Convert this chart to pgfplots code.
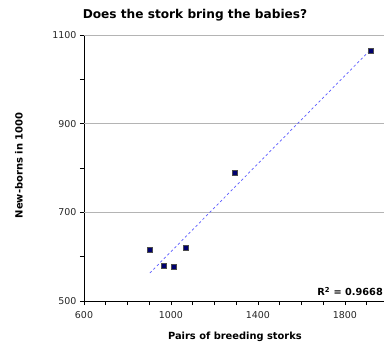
\documentclass[border=0pt]{standalone}
\usepackage{fontspec}
\setmainfont{DejaVu Sans}
\usepackage{pgfplots}
\usepackage{pgfplotstable}
\pgfplotsset{compat=1.18}
\definecolor{navy}{RGB}{0,0,110}
\definecolor{trend}{RGB}{90,90,255}
\definecolor{gridgray}{RGB}{180,180,180}
\pgfplotstableread{
x y
903 616
968 580
1014 577
1069 620
1294 789
1920 1065
}\storks
\begin{document}
\begin{tikzpicture}
\begin{axis}[
  scale only axis, width=300bp, height=266bp,
  xmin=600, xmax=1980, ymin=500, ymax=1100,
  axis x line=bottom, axis y line=left,
  axis line style={-, black, line width=0.8bp},
  xtick={600,700,...,1900},
  xticklabels={600,,,,1000,,,,1400,,,,1800,},
  ytick={500,600,...,1100},
  yticklabels={500,,700,,900,,1100},
  extra y ticks={700,900,1100},
  extra y tick labels={},
  extra y tick style={grid=major, major tick length=0pt},
  major grid style={gridgray, line width=0.8bp},
  tick align=outside, major tick length=4bp,
  tick style={black, line width=0.6bp},
  /pgf/number format/assume math mode=true,
  ticklabel style={font=\fontsize{9.5}{11}\selectfont, text=black!85},
  xticklabel style={yshift=-3bp},
  clip=false,
  title={\textbf{Does the stork bring the babies?}},
  title style={font=\fontsize{12.2}{14}\selectfont, at={(axis description cs:0.37,1.04)}, anchor=base},
  xlabel={\textbf{Pairs of breeding storks}},
  xlabel style={font=\fontsize{9.9}{12}\selectfont, at={(axis description cs:0.503,-0.136)}, anchor=center},
  ylabel={\textbf{New-borns in 1000}},
  ylabel style={font=\fontsize{10}{12}\selectfont, at={(axis description cs:-0.217,0.51)}, anchor=center, rotate=0},
]
\addplot[trend, line width=0.7bp, dash pattern=on 2.5bp off 2.5bp]
  table[x=x, y={create col/linear regression={y=y}}] {\storks};
\addplot[only marks, mark=square*, mark size=2.6bp, mark options={fill=navy, draw=black!70, line width=0.5bp}]
  table[x=x, y=y] {\storks};
\node[anchor=south east, font=\fontsize{9.8}{11}\selectfont\bfseries, inner sep=1bp] at (axis description cs:1,0.015) {R$^{\mathbf{2}}$ = 0.9668};
\end{axis}
\path (current axis.origin) ++(-84bp,-46bp) rectangle ++(385bp,347bp);
\end{tikzpicture}
\end{document}
